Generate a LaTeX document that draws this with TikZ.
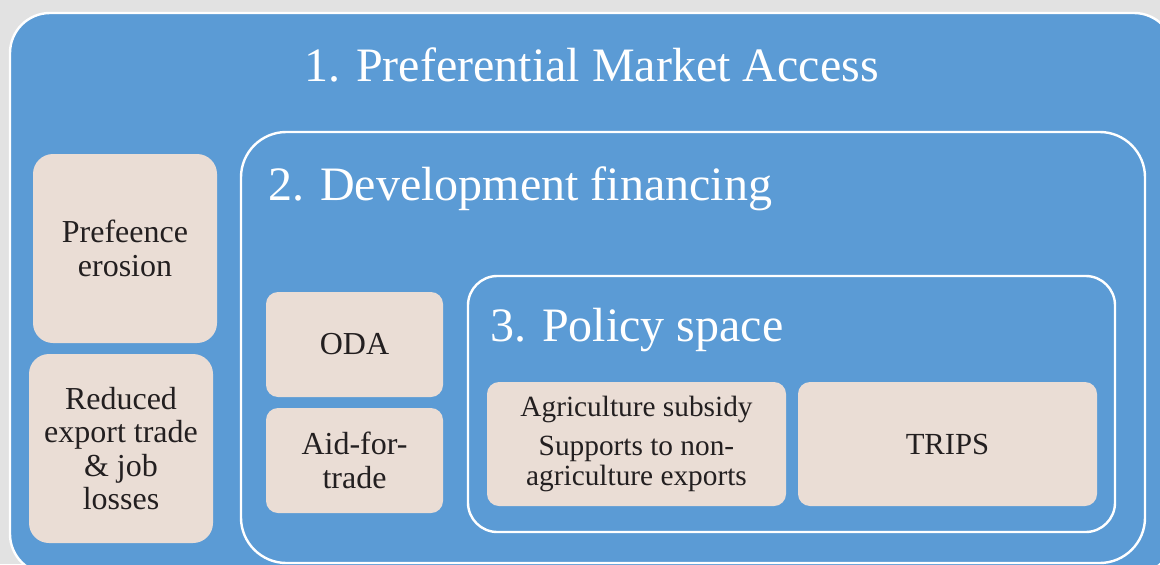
\documentclass[tikz,border=0pt]{standalone}
\usepackage{fontspec}
\setmainfont{Liberation Serif}
\definecolor{areablue}{HTML}{5B9BD5}
\definecolor{boxtan}{HTML}{EADDD5}
\definecolor{inktext}{HTML}{231F20}
\definecolor{paper}{HTML}{E2E2E2}
\tikzset{
  leaf/.style={fill=boxtan, text=inktext, align=center, inner sep=0pt},
  leftbox/.style={leaf, minimum width=138pt, minimum height=141.75pt,
    rounded corners=15pt, font=\fontsize{24}{25}\selectfont},
  finbox/.style={leaf, minimum width=132.75pt, minimum height=78.75pt,
    rounded corners=9pt, font=\fontsize{24}{25}\selectfont},
  polbox/.style={leaf, minimum width=224.25pt, minimum height=93pt,
    rounded corners=9pt, font=\fontsize{22}{23}\selectfont},
  frame/.style={white, line width=1.8pt},
  heading/.style={text=white, inner sep=0pt, font=\fontsize{36}{38}\selectfont}
}
\begin{document}
\begin{tikzpicture}[x=0.75pt,y=-0.75pt]
  \useasboundingbox (0,0) rectangle (1160,564);
  \clip (0,0) rectangle (1160,564);
  \fill[paper] (0,0) rectangle (1160,564);
  % nested areas
  \draw[frame, fill=areablue, rounded corners=30pt] (10,13) rectangle (1174,574);
  \draw[frame, rounded corners=34pt] (241,132) rectangle (1145,563);
  \draw[frame, rounded corners=22pt] (468,276) rectangle (1115,532);
  % area titles
  \node[heading, anchor=base] (access) at (591.5,81) {1. Preferential Market Access};
  \node[heading, anchor=base west] (finance) at (268,200) {2. Development financing};
  \node[heading, anchor=base west] (policy) at (490,341) {3. Policy space};
  % boxes
  \node[leftbox] (erosion) at (125,248.5) {Prefeence\\erosion};
  \node[leftbox] (losses) at (121,448.5) {Reduced\\export trade\\\& job\\losses};
  \node[finbox] (oda) at (354.5,344.5) {ODA};
  \node[finbox] (aid) at (354.5,460.5) {Aid-for-\\trade};
  \node[polbox] (subsidy) at (636.5,444) {Agriculture subsidy\\[6pt]Supports to non-\\agriculture exports};
  \node[polbox, font=\fontsize{23}{24}\selectfont] (trips) at (947.5,444) {TRIPS};
\end{tikzpicture}
\end{document}
